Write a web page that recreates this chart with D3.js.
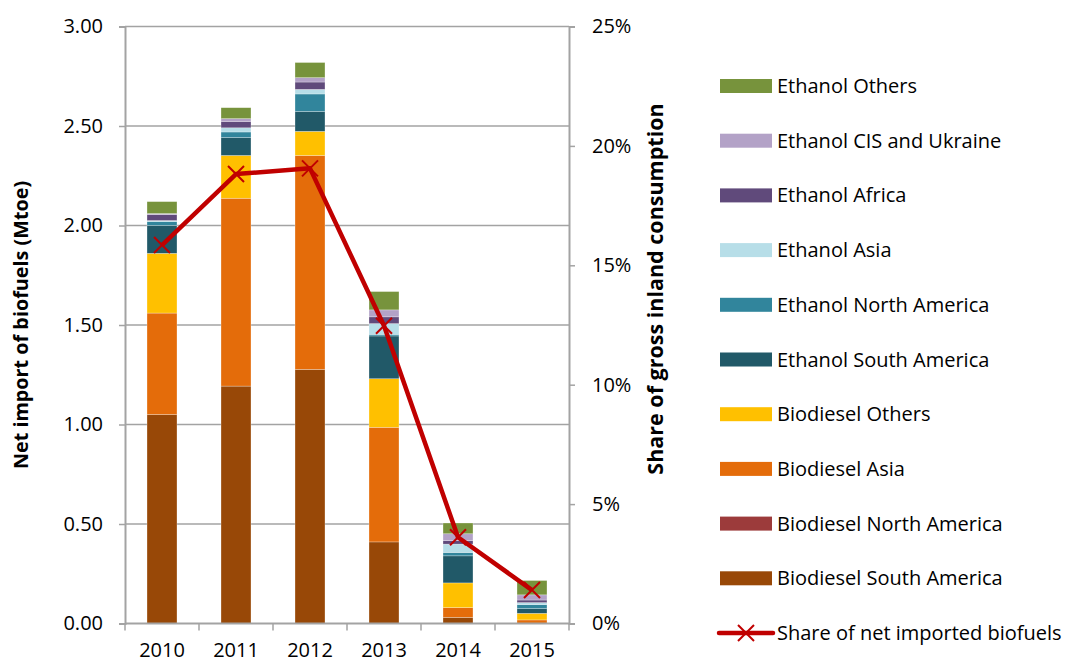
<!DOCTYPE html>
<html>
<head>
<meta charset="utf-8">
<script src="https://cdn.jsdelivr.net/npm/d3@7"></script>
<style>
  body { margin: 0; background: #fff; }
  svg text { font-family: "Open Sans", sans-serif; fill: #000; }
</style>
</head>
<body>
<div id="chart"></div>
<script>
(function(){
// data
const years = ['2010', '2011', '2012', '2013', '2014', '2015'];

const biodieselSouthAmerica = [1.05, 1.193, 1.277, 0.41, 0.031, 0.0];
const biodieselNorthAmerica = [0, 0, 0, 0, 0, 0];
const biodieselAsia         = [0.51, 0.944, 1.075, 0.576, 0.049, 0.018];
const biodieselOthers       = [0.30, 0.215, 0.121, 0.244, 0.124, 0.033];
const ethanolSouthAmerica   = [0.14, 0.09, 0.10, 0.215, 0.136, 0.024];
const ethanolNorthAmerica   = [0.02, 0.028, 0.088, 0.008, 0.017, 0.02];
const ethanolAsia           = [0.005, 0.021, 0.023, 0.054, 0.042, 0.01];
const ethanolAfrica         = [0.03, 0.032, 0.037, 0.034, 0.017, 0.013];
const ethanolCIS            = [0.005, 0.014, 0.022, 0.035, 0.035, 0.026];
const ethanolOthers         = [0.06, 0.055, 0.076, 0.092, 0.054, 0.072];

const shareImported = [15.85, 18.82, 19.06, 12.47, 3.61, 1.40];

const leftTicks = [0, 0.5, 1, 1.5, 2, 2.5, 3];
const rightTicks = [0, 5, 10, 15, 20, 25];

const seriesNames = [
    'Biodiesel South America', 'Biodiesel North America', 'Biodiesel Asia', 'Biodiesel Others',
    'Ethanol South America', 'Ethanol North America', 'Ethanol Asia', 'Ethanol Africa',
    'Ethanol CIS and Ukraine', 'Ethanol Others'
];
const seriesValues = [
    biodieselSouthAmerica, biodieselNorthAmerica, biodieselAsia, biodieselOthers,
    ethanolSouthAmerica, ethanolNorthAmerica, ethanolAsia, ethanolAfrica,
    ethanolCIS, ethanolOthers
];
const seriesColors = [
    '#984807', '#9C3B3B', '#E46C0A', '#FFC000',
    '#215968', '#31859C', '#B7DEE8', '#604A7B',
    '#B3A2C7', '#77933C'
];
const lineName = 'Share of net imported biofuels';

// build table for d3.stack
const table = years.map((y, i) => {
    const row = { year: y };
    seriesNames.forEach((s, k) => { row[s] = seriesValues[k][i]; });
    return row;
});

const width = 1078, height = 663;
const plot = { left: 125, right: 569, top: 26.5, bottom: 623.5 };

const svg = d3.select('#chart')
    .append('svg')
    .attr('width', width)
    .attr('height', height);

const x = d3.scaleBand()
    .domain(years)
    .range([plot.left, plot.right])
    .paddingInner(0)
    .paddingOuter(0);

const yLeft = d3.scaleLinear().domain([0, 3]).range([plot.bottom, plot.top]);
const yRight = d3.scaleLinear().domain([0, 25]).range([plot.bottom, plot.top]);

const gridColor = '#A3A3A3';

// gridlines
svg.append('g')
    .selectAll('line')
    .data(leftTicks.filter(d => d > 0))
    .enter()
    .append('line')
    .attr('x1', plot.left)
    .attr('x2', plot.right)
    .attr('y1', d => yLeft(d))
    .attr('y2', d => yLeft(d))
    .attr('stroke', gridColor)
    .attr('stroke-width', 1.5);

// stacked bars
const stack = d3.stack().keys(seriesNames);
const stacked = stack(table);
const barW = x.bandwidth() * 0.405;

svg.append('g')
    .selectAll('g')
    .data(stacked)
    .enter()
    .append('g')
    .attr('fill', (d, i) => seriesColors[i])
    .selectAll('rect')
    .data(d => d.filter(p => p[1] - p[0] > 0))
    .enter()
    .append('rect')
    .attr('x', d => x(d.data.year) + (x.bandwidth() - barW) / 2)
    .attr('y', d => yLeft(d[1]))
    .attr('width', barW)
    .attr('height', d => yLeft(d[0]) - yLeft(d[1]))
    .attr('stroke', 'rgba(255,255,255,0.45)')
    .attr('stroke-width', 0.6);

// axes
const leftAxis = d3.axisLeft(yLeft)
    .tickValues(leftTicks)
    .tickFormat(d3.format('.2f'))
    .tickSize(6)
    .tickPadding(16);

const rightAxis = d3.axisRight(yRight)
    .tickValues(rightTicks)
    .tickFormat(d => d + '%')
    .tickSize(6)
    .tickPadding(17);

const bottomAxis = d3.axisBottom(x)
    .tickSize(0)
    .tickPadding(19);

function styleAxis(g) {
    g.select('.domain').attr('stroke', gridColor).attr('stroke-width', 2);
    g.selectAll('.tick line').attr('stroke', gridColor).attr('stroke-width', 1.5);
    g.selectAll('.tick text').attr('font-size', '20px').attr('fill', '#000');
}

svg.append('g')
    .attr('transform', `translate(${plot.left},0)`)
    .call(leftAxis)
    .call(styleAxis);

svg.append('g')
    .attr('transform', `translate(${plot.right},0)`)
    .call(rightAxis)
    .call(styleAxis);

const xg = svg.append('g')
    .attr('transform', `translate(0,${plot.bottom})`)
    .call(bottomAxis)
    .call(styleAxis);
xg.select('.domain').attr('d', `M${plot.left},0H${plot.right}`);

// category boundary ticks on the x axis
svg.append('g')
    .selectAll('line')
    .data(years.concat(['end']))
    .enter()
    .append('line')
    .attr('x1', (d, i) => plot.left + i * x.bandwidth())
    .attr('x2', (d, i) => plot.left + i * x.bandwidth())
    .attr('y1', plot.bottom)
    .attr('y2', plot.bottom + 7)
    .attr('stroke', gridColor)
    .attr('stroke-width', 1.5);

// axis titles
svg.append('text')
    .attr('transform', `translate(28,${(plot.top + plot.bottom) / 2}) rotate(-90)`)
    .attr('text-anchor', 'middle')
    .attr('font-size', '19.8px')
    .attr('font-weight', 'bold')
    .text('Net import of biofuels (Mtoe)');

svg.append('text')
    .attr('transform', `translate(663,${(plot.top + plot.bottom) / 2 - 36}) rotate(-90)`)
    .attr('text-anchor', 'middle')
    .attr('font-size', '21.5px')
    .attr('font-weight', 'bold')
    .text('Share of gross inland consumption');

// share line
const lineColor = '#C00000';
const line = d3.line()
    .x((d, i) => x(years[i]) + x.bandwidth() / 2)
    .y(d => yRight(d));

svg.append('path')
    .datum(shareImported)
    .attr('fill', 'none')
    .attr('stroke', lineColor)
    .attr('stroke-width', 4.5)
    .attr('stroke-linejoin', 'round')
    .attr('d', line);

const m = 8;
svg.append('g')
    .selectAll('path')
    .data(shareImported)
    .enter()
    .append('path')
    .attr('transform', (d, i) => `translate(${x(years[i]) + x.bandwidth() / 2},${yRight(d)})`)
    .attr('d', `M${-m},${-m}L${m},${m}M${-m},${m}L${m},${-m}`)
    .attr('stroke', lineColor)
    .attr('stroke-width', 2);

// legend
const legendItems = seriesNames.map((n, i) => ({ name: n, color: seriesColors[i] })).reverse();
const legendY0 = 86, legendStep = 54.7;
const legend = svg.append('g');

legendItems.forEach((d, i) => {
    const yy = legendY0 + i * legendStep;
    legend.append('rect')
        .attr('x', 720)
        .attr('y', yy - 7)
        .attr('width', 52)
        .attr('height', 14)
        .attr('fill', d.color);
    legend.append('text')
        .attr('x', 777)
        .attr('y', yy)
        .attr('dy', '0.35em')
        .attr('font-size', '20px')
        .text(d.name);
});

const ly = legendY0 + legendItems.length * legendStep;
legend.append('line')
    .attr('x1', 719).attr('x2', 773)
    .attr('y1', ly).attr('y2', ly)
    .attr('stroke', lineColor)
    .attr('stroke-width', 4.5)
    .attr('stroke-linecap', 'round');
legend.append('path')
    .attr('transform', `translate(746,${ly})`)
    .attr('d', `M${-m},${-m}L${m},${m}M${-m},${m}L${m},${-m}`)
    .attr('stroke', lineColor)
    .attr('stroke-width', 2);
legend.append('text')
    .attr('x', 777)
    .attr('y', ly)
    .attr('dy', '0.35em')
    .attr('font-size', '20px')
    .text(lineName);

})();
</script>
</body>
</html>
